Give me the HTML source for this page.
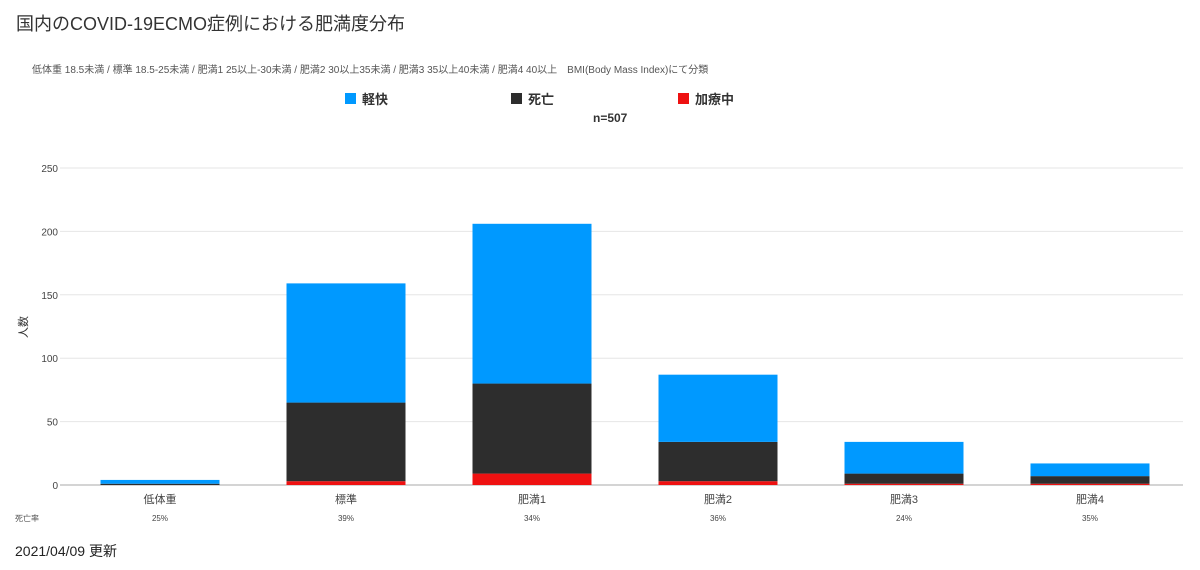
<!DOCTYPE html>
<html><head><meta charset="utf-8"><style>
body{margin:0;width:1200px;height:570px;background:#fff;font-family:"Liberation Sans","Noto Sans CJK JP",sans-serif;overflow:hidden;position:relative}
.t{position:absolute;white-space:nowrap}
</style></head><body>
<div class="t" style="left:16px;top:10px;font-size:18px;color:#333">国内のCOVID-19ECMO症例における肥満度分布</div>
<div class="t" style="left:32px;top:61px;font-size:10px;color:#555">低体重 18.5未満 / 標準 18.5-25未満 / 肥満1 25以上-30未満 / 肥満2 30以上35未満 / 肥満3 35以上40未満 / 肥満4 40以上　BMI(Body Mass Index)にて分類</div>
<div class="t" style="left:593px;top:111px;font-size:12px;font-weight:bold;color:#333">n=507</div>
<div class="t" style="left:15px;top:541px;font-size:14px;color:#222">2021/04/09 更新</div>
<svg id="c" width="1200" height="570" style="position:absolute;left:0;top:0"></svg>
<script>
const categories=["低体重","標準","肥満1","肥満2","肥満3","肥満4"];
const recovered=[3,94,126,53,25,10];
const deceased=[1,62,71,31,8,6];
const treating=[0,3,9,3,1,1];
const rates=["25%","39%","34%","36%","24%","35%"];
const yTicks=[0,50,100,150,200,250];
const seriesNames=["軽快","死亡","加療中"];
const colors=["#0099ff","#2d2d2d","#ee1111"];
const NS="http://www.w3.org/2000/svg";
const svg=document.getElementById('c');
const y0=485,y1=168,yMax=250;
const y=v=>y0-(v/yMax)*(y0-y1);
const step=186,first=160,bw=119;
const x=i=>first+i*step;
function mk(t,a){const e=document.createElementNS(NS,t);for(const k in a)e.setAttribute(k,a[k]);svg.appendChild(e);return e;}
yTicks.forEach(v=>{
 const l=mk('line',{x1:60,x2:1183,y1:y(v),y2:y(v),stroke:v===0?'#aaa':'#e6e6e6'});
 
 
 const t=mk('text',{x:58,y:y(v)+4,'text-anchor':'end','font-size':10,fill:'#444'});t.textContent=v;
 
 
});
const yt=mk('text',{x:0,y:0,'font-size':11,fill:'#333',transform:'translate(27,327) rotate(-90)','text-anchor':'middle'});yt.textContent='人数';


const rl=mk('text',{x:15,y:521,'font-size':8,fill:'#555'});rl.textContent='死亡率';


categories.forEach((c,i)=>{
 let base=0;
 [treating[i],deceased[i],recovered[i]].forEach((v,k)=>{
  const col=[colors[2],colors[1],colors[0]][k];
  const r=mk('rect',{x:x(i)-bw/2,y:y(base+v),width:bw,height:y(base)-y(base+v),fill:col});
  
  
  base+=v;
 });
 const t=mk('text',{x:x(i),y:503,'text-anchor':'middle','font-size':11,fill:'#444'});t.textContent=c;
 
 
 const r=mk('text',{x:x(i),y:521,'text-anchor':'middle','font-size':8,fill:'#444'});r.textContent=rates[i];
 
 
});
const lx=[345,511,678];
seriesNames.forEach((n,i)=>{
 const r=mk('rect',{x:lx[i],y:93,width:11,height:11,fill:colors[i]});
 
 
 const t=mk('text',{x:lx[i]+17,y:104,'font-size':13,'font-weight':'bold',fill:'#333'});t.textContent=n;
 
 
});
</script>
</body></html>
